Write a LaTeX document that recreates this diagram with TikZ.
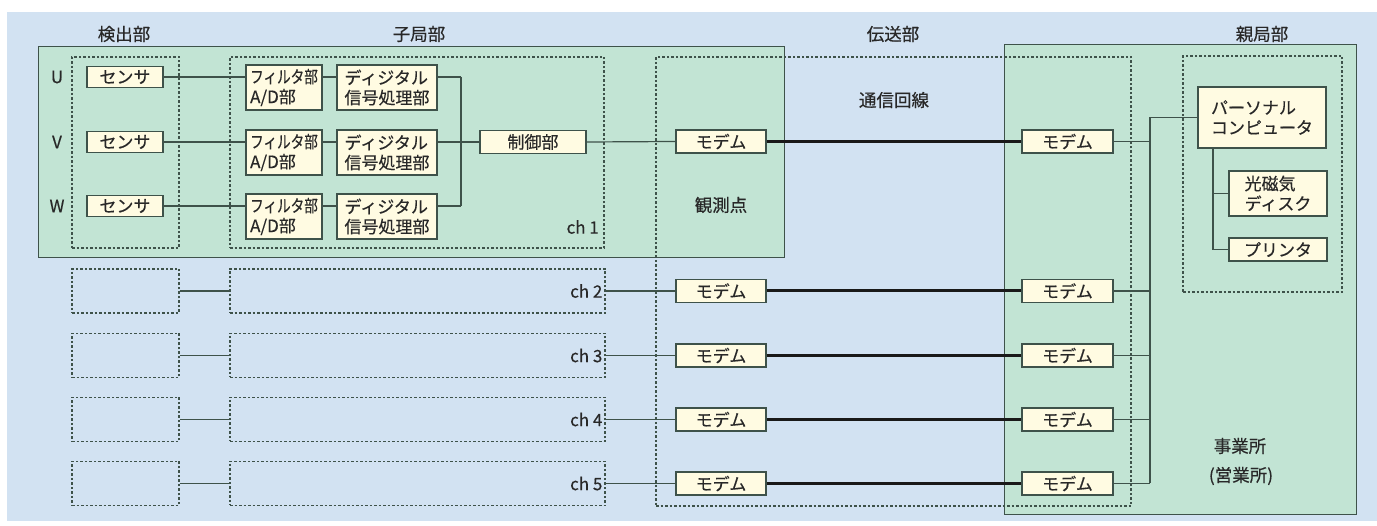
\documentclass[tikz,border=0pt]{standalone}
\usepackage{fontspec}
\setmainfont[FakeBold=0.4,AutoFakeBold=0.4]{Noto Sans CJK JP}
\usetikzlibrary{calc}
\definecolor{bgblue}{RGB}{210,226,242}
\definecolor{grn}{RGB}{194,228,212}
\definecolor{cream}{RGB}{255,251,226}
\definecolor{edge}{RGB}{62,82,74}
\definecolor{txt}{RGB}{40,40,40}
\definecolor{thk}{RGB}{25,25,25}
\begin{document}
\begin{tikzpicture}[x=1pt,y=-1pt,
  box/.style={draw=edge,line width=1.3pt,fill=cream,inner sep=0pt,align=left,text=txt,font=\fontsize{17}{20}\selectfont},
  dbox/.style={draw=edge,line width=1.2pt,dash pattern=on 2.5pt off 2pt,inner sep=0pt},
  lbl/.style={text=txt,inner sep=0pt,font=\fontsize{17.5}{21}\selectfont},
  chl/.style={text=txt,inner sep=0pt,font=\fontsize{17}{20}\selectfont},
  wire/.style={draw=edge,line width=1.2pt},
  trunk/.style={draw=thk,line width=3pt}
]
\useasboundingbox (0,0) rectangle (1377,526);
\fill[white] (0,0) rectangle (1377,526);
\fill[bgblue] (7,12) rectangle (1377,521);
% green areas
\filldraw[fill=grn,draw=edge,line width=1pt] (38,47) rectangle (784,258);
\filldraw[fill=grn,draw=edge,line width=1pt] (1004,45) rectangle (1356,515);

% titles
\node[lbl] (tKen) at (124,34) {検出部};
\node[lbl] (tKo) at (419,34) {子局部};
\node[lbl] (tDen) at (893,34) {伝送部};
\node[lbl] (tOya) at (1262,34) {親局部};
\node[lbl] (tTsu) at (894,100) {通信回線};
\node[lbl] (tKan) at (721,205) {観測点};
\node[lbl] (tJi) at (1240,446) {事業所};
\node[lbl] (tEi) at (1241,476) {(営業所)};

% dashed groups
\node[dbox,minimum width=107,minimum height=191] (kenD) at (125.5,152.5) {};
\node[dbox,minimum width=374,minimum height=191] (koD) at (417,152.5) {};
\node[dbox,minimum width=475,minimum height=449] (kanD) at (893.5,281.5) {};
\node[dbox,minimum width=159,minimum height=236] (oyaD) at (1262.5,174) {};
\node[chl,anchor=east] (ch1) at (599,227) {ch 1};

% bus coordinates
\coordinate (busA) at (461,77);
\coordinate (busB) at (461,206);
\coordinate (busTop) at (1150,117.5);
\coordinate (busBot) at (1150,483.5);
\coordinate (pv) at (1213,0);

% channel 1 rows
\foreach \r/\y in {U/77,V/142,W/206} {
  \node[chl] (l\r) at (57,\y) {\r};
  \node[box,minimum width=76,minimum height=21] (s\r) at (125,\y) {センサ};
  \node[box,minimum width=76,minimum height=45] (f\r) at (284,\y+10.5) {\scalebox{0.8}[1]{フィルタ部}\\A/D部};
  \node[box,minimum width=100,minimum height=45] (d\r) at (387,\y+10.5) {ディジタル\\信号処理部};
  \draw[wire] (s\r.east) -- (s\r.east -| f\r.west);
  \draw[wire] (s\r.east -| f\r.east) -- (s\r.east -| d\r.west);
  \draw[wire] (s\r.east -| d\r.east) -- (s\r.east -| busA);
}
\draw[wire] (busA) -- (busB);
\node[box,minimum width=106,minimum height=23] (ctl) at (533,142) {制御部};
\node[box,minimum width=90,minimum height=23] (mL1) at (721,141.5) {モデム};
\node[box,minimum width=91,minimum height=23] (mR1) at (1067.5,141.5) {モデム};
\draw[wire] (busA |- ctl.west) -- (ctl.west);
\draw[wire] (ctl.east) -- (mL1.west);
\draw[trunk] (mL1.east) -- (mR1.west);
\draw[wire] (mR1.east) -- (mR1.east -| busTop);

% channels 2-5
\foreach \n/\y in {2/291,3/355.5,4/419.5,5/483.5} {
  \node[dbox,minimum width=107,minimum height=44] (k\n) at (125.5,\y) {};
  \node[dbox,minimum width=375,minimum height=44] (c\n) at (417.5,\y) {};
  \node[chl,anchor=east,xshift=-3pt] (ch\n) at (c\n.east) {ch \n};
  \node[box,minimum width=90,minimum height=23] (mL\n) at (721,\y) {モデム};
  \node[box,minimum width=91,minimum height=23] (mR\n) at (1067.5,\y) {モデム};
  \draw[wire] (k\n.east) -- (c\n.west);
  \draw[wire] (c\n.east) -- (mL\n.west);
  \draw[trunk] (mL\n.east) -- (mR\n.west);
  \draw[wire] (mR\n.east) -- (mR\n.east -| busTop);
}

% master station
\node[box,minimum width=128,minimum height=61] (pc) at (1262,117.5) {パーソナル\\コンピュータ};
\node[box,minimum width=98,minimum height=45] (disk) at (1278,193.5) {光磁気\\ディスク};
\node[box,minimum width=98,minimum height=23] (prn) at (1278,249.5) {プリンタ};
\draw[wire] (pc.west) -- (busTop) -- (busBot);
\draw[wire] (pv |- pc.south) -- (pv |- prn.west) -- (prn.west);
\draw[wire] (pv |- disk.west) -- (disk.west);
\end{tikzpicture}
\end{document}
